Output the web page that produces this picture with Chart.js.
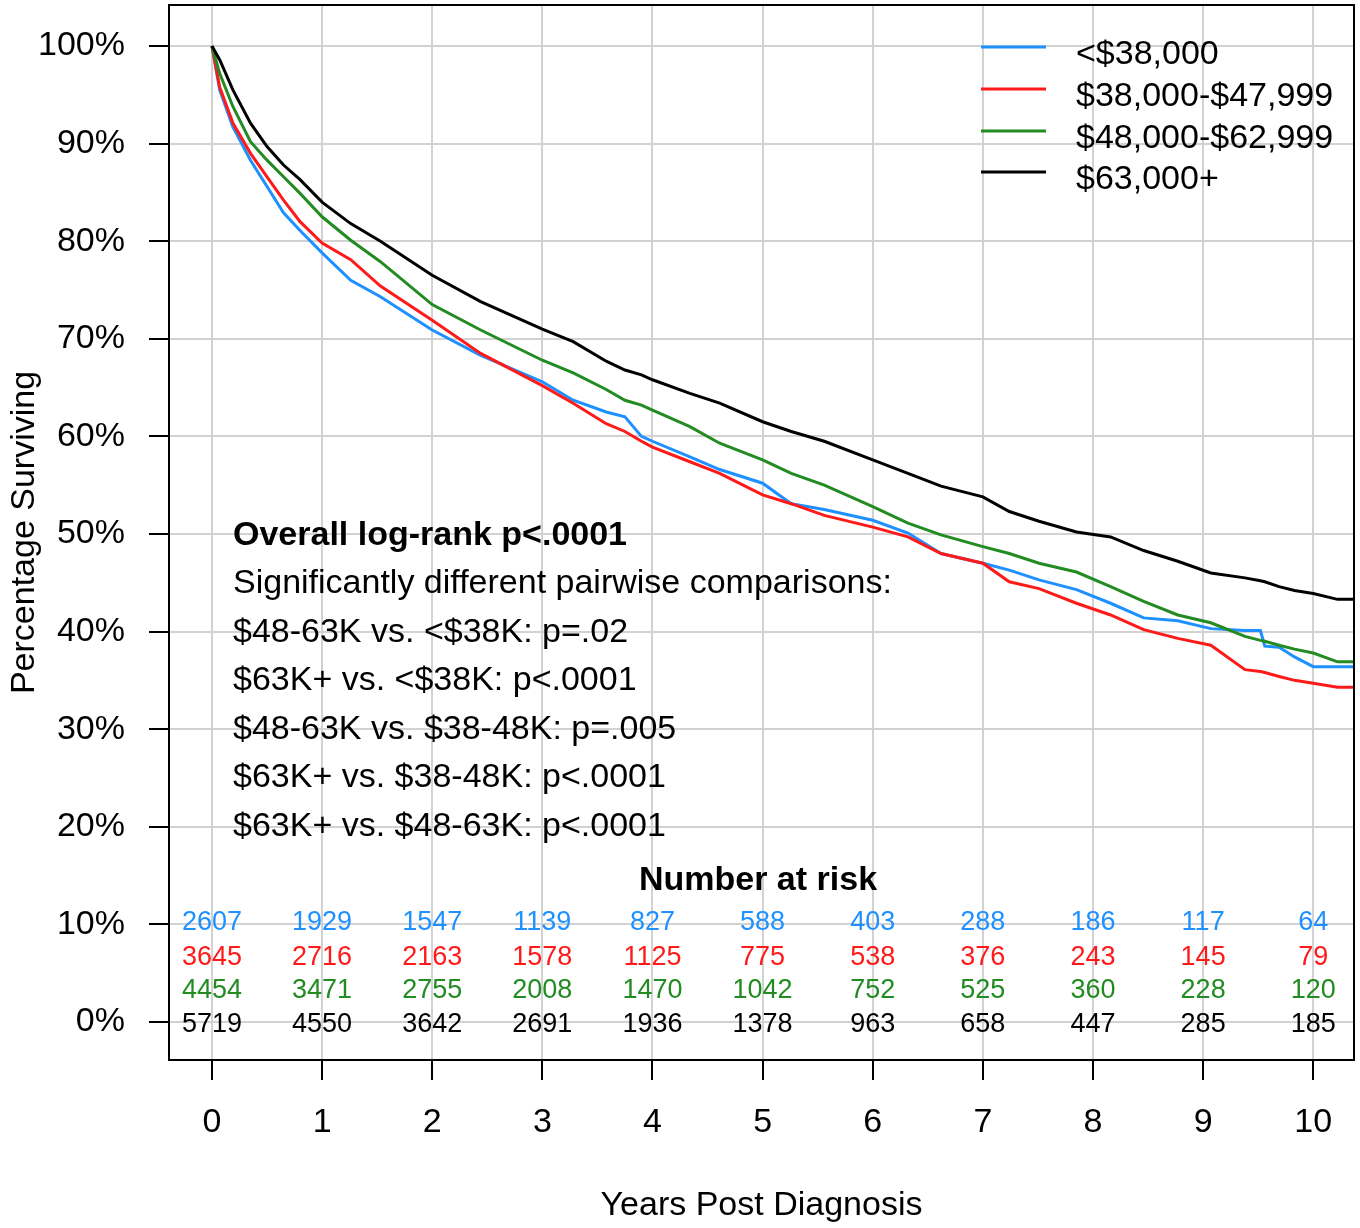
<!DOCTYPE html>
<html><head><meta charset="utf-8">
<script src="https://cdn.jsdelivr.net/npm/chart.js@4"></script>
<style>html,body{margin:0;padding:0;background:#fff}</style>
</head><body>
<canvas id="c" width="1360" height="1228" style="width:1360px;height:1228px;display:block"></canvas>
<script>
// ---------------- DATA ----------------
const seriesLabels = ['<$38,000', '$38,000-$47,999', '$48,000-$62,999', '$63,000+'];
const years = [0, 0.07, 0.19, 0.35, 0.5, 0.65, 0.8, 1.0, 1.26, 1.53, 2.0, 2.44, 3.0, 3.28, 3.58, 3.75, 3.9, 4.0, 4.34, 4.61, 5.0, 5.26, 5.56, 6.0, 6.32, 6.62, 7.0, 7.24, 7.51, 7.85, 8.16, 8.46, 8.77, 9.07, 9.38, 9.52, 9.56, 9.69, 9.83, 10.0, 10.22, 10.37];
const survUnder38 = [100, 95.5, 91.7, 88.3, 85.6, 82.9, 81.1, 78.8, 76.0, 74.3, 70.9, 68.3, 65.6, 63.7, 62.5, 62.0, 60.0, 59.5, 57.9, 56.6, 55.2, 53.1, 52.5, 51.4, 50.1, 48.0, 47.0, 46.3, 45.3, 44.3, 42.9, 41.4, 41.1, 40.3, 40.1, 40.1, 38.5, 38.4, 37.4, 36.4, 36.4, 36.4];
const surv38to48 = [100, 95.8, 92.1, 89.0, 86.6, 84.2, 82.0, 79.8, 78.1, 75.4, 71.9, 68.5, 65.2, 63.4, 61.3, 60.5, 59.5, 58.9, 57.4, 56.2, 54.0, 53.1, 51.9, 50.7, 49.7, 48.0, 47.0, 45.1, 44.4, 42.9, 41.7, 40.2, 39.3, 38.6, 36.1, 35.9, 35.8, 35.4, 35.0, 34.7, 34.3, 34.3];
const surv48to63 = [100, 97.2, 93.8, 90.2, 88.3, 86.6, 84.9, 82.5, 80.1, 77.9, 73.5, 70.9, 67.8, 66.5, 64.8, 63.7, 63.2, 62.7, 61.0, 59.3, 57.6, 56.2, 55.0, 52.8, 51.1, 49.9, 48.7, 48.0, 47.0, 46.1, 44.6, 43.1, 41.7, 40.9, 39.5, 39.1, 39.0, 38.6, 38.2, 37.8, 36.9, 36.9];
const surv63plus = [100, 98.6, 95.5, 92.1, 89.7, 87.8, 86.3, 84.0, 81.8, 80.0, 76.5, 73.8, 71.0, 69.7, 67.7, 66.8, 66.3, 65.8, 64.4, 63.4, 61.5, 60.5, 59.5, 57.6, 56.2, 54.9, 53.8, 52.3, 51.3, 50.2, 49.7, 48.3, 47.2, 46.0, 45.5, 45.2, 45.1, 44.6, 44.2, 43.9, 43.3, 43.3];

const riskYears = [0, 1, 2, 3, 4, 5, 6, 7, 8, 9, 10];
const riskUnder38 = [2607, 1929, 1547, 1139, 827, 588, 403, 288, 186, 117, 64];
const risk38to48 = [3645, 2716, 2163, 1578, 1125, 775, 538, 376, 243, 145, 79];
const risk48to63 = [4454, 3471, 2755, 2008, 1470, 1042, 752, 525, 360, 228, 120];
const risk63plus = [5719, 4550, 3642, 2691, 1936, 1378, 963, 658, 447, 285, 185];

const xTickValues = [0, 1, 2, 3, 4, 5, 6, 7, 8, 9, 10];
const yTickValues = [0, 10, 20, 30, 40, 50, 60, 70, 80, 90, 100];

const annotationTitle = 'Overall log-rank p<.0001';
const annotationLines = [
  'Significantly different pairwise comparisons:',
  '$48-63K vs. <$38K: p=.02',
  '$63K+ vs. <$38K: p<.0001',
  '$48-63K vs. $38-48K: p=.005',
  '$63K+ vs. $38-48K: p<.0001',
  '$63K+ vs. $48-63K: p<.0001'
];
const riskTitle = 'Number at risk';
const xTitle = 'Years Post Diagnosis';
const yTitle = 'Percentage Surviving';

// ---------------- STYLE ----------------
const FONT = '"Liberation Sans", Arial, Helvetica, sans-serif';
const colors = ['#1E90FF', '#FF1A1A', '#228B22', '#000000'];
const survSeries = [survUnder38, surv38to48, surv48to63, surv63plus];
const riskSeries = [riskUnder38, risk38to48, risk48to63, risk63plus];

const datasets = survSeries.map((vals, i) => ({
  label: seriesLabels[i],
  data: years.map((t, k) => ({ x: t, y: vals[k] })),
  borderColor: colors[i],
  backgroundColor: colors[i],
  borderWidth: 3,
  pointRadius: 0,
  tension: 0,
  fill: false,
  order: 3 - i
}));

const overlay = {
  id: 'overlay',
  afterDraw(chart) {
    const ctx = chart.ctx, ca = chart.chartArea;
    const xs = chart.scales.x;
    ctx.save();
    ctx.strokeStyle = '#000';
    ctx.lineWidth = 2;
    ctx.strokeRect(ca.left, ca.top, ca.right - ca.left, ca.bottom - ca.top);

    const legLineX0 = 981, legLineX1 = 1046, legTextX = 1076;
    const legY = [47, 89, 131, 172];
    ctx.font = '34px ' + FONT;
    ctx.textAlign = 'left';
    ctx.textBaseline = 'alphabetic';
    seriesLabels.forEach((lab, i) => {
      ctx.strokeStyle = colors[i];
      ctx.lineWidth = 3;
      ctx.beginPath();
      ctx.moveTo(legLineX0, legY[i]);
      ctx.lineTo(legLineX1, legY[i]);
      ctx.stroke();
      ctx.fillStyle = '#000';
      ctx.fillText(lab, legTextX, legY[i] + 17);
    });

    const annX = 233;
    const annBase = [545, 593, 642, 690, 739, 787, 836];
    ctx.fillStyle = '#000';
    ctx.font = 'bold 34px ' + FONT;
    ctx.fillText(annotationTitle, annX, annBase[0]);
    ctx.font = '34px ' + FONT;
    annotationLines.forEach((t, i) => ctx.fillText(t, annX, annBase[i + 1]));

    ctx.font = 'bold 34px ' + FONT;
    ctx.textAlign = 'center';
    ctx.fillText(riskTitle, 758, 890);
    ctx.font = '27px ' + FONT;
    const rowBase = [930, 965, 998, 1032];
    riskSeries.forEach((row, r) => {
      ctx.fillStyle = colors[r];
      row.forEach((n, k) => {
        ctx.fillText(String(n), xs.getPixelForValue(riskYears[k]), rowBase[r]);
      });
    });
    ctx.restore();
  }
};

new Chart(document.getElementById('c'), {
  type: 'line',
  data: { datasets },
  options: {
    responsive: false,
    animation: false,
    devicePixelRatio: 1,
    layout: { padding: { left: 0, top: 5, right: 6, bottom: 0 } },
    plugins: { legend: { display: false }, tooltip: { enabled: false } },
    scales: {
      x: {
        type: 'linear',
        min: -0.39,
        max: 10.37,
        afterBuildTicks: s => { s.ticks = xTickValues.map(v => ({ value: v })); },
        afterFit: s => { s.height = 168; s.paddingLeft = 0; s.paddingRight = 0; },
        ticks: {
          color: '#000',
          font: { family: FONT, size: 34 },
          padding: 22,
          maxRotation: 0,
          autoSkip: false,
          callback: v => String(v)
        },
        grid: { color: '#d2d2d2', lineWidth: 2, tickLength: 20, tickColor: '#000', tickWidth: 2 },
        border: { display: true, color: '#000', width: 2 },
        title: {
          display: true,
          text: xTitle,
          color: '#000',
          font: { family: FONT, size: 34 },
          padding: { top: 0, bottom: 2 }
        }
      },
      y: {
        type: 'linear',
        min: -3.9,
        max: 104.2,
        afterBuildTicks: s => { s.ticks = yTickValues.map(v => ({ value: v })); },
        afterFit: s => { s.width = 169; s.paddingTop = 0; s.paddingBottom = 0; },
        ticks: {
          color: '#000',
          font: { family: FONT, size: 34 },
          padding: 24,
          autoSkip: false,
          callback: v => v + '%'
        },
        grid: { color: '#d2d2d2', lineWidth: 2, tickLength: 20, tickColor: '#000', tickWidth: 2 },
        border: { display: true, color: '#000', width: 2 },
        title: {
          display: true,
          text: yTitle,
          color: '#000',
          font: { family: FONT, size: 34 },
          padding: { top: 4, bottom: 0 }
        }
      }
    }
  },
  plugins: [overlay]
});
</script>
</body></html>
